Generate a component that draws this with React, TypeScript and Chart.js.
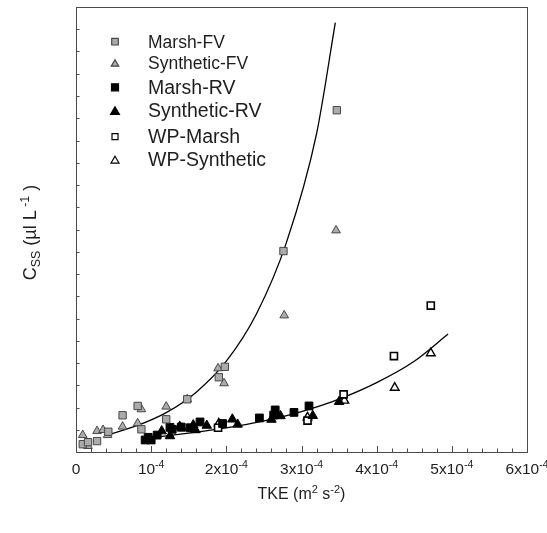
import React, { useEffect, useRef } from "react";
import { Chart, registerables } from "chart.js";

Chart.register(...registerables);

// TKE values are in units of 1e-4 m^2 s^-2; Css in arbitrary (unlabelled) units
const xMajorTicks = [0, 1, 2, 3, 4, 5, 6];
const xTickMain = ["0", "10", "2x10", "3x10", "4x10", "5x10", "6x10"];
const xTickExp = ["", "-4", "-4", "-4", "-4", "-4", "-4"];
const yTicks = [0, 1, 2, 3, 4, 5, 6, 7, 8, 9, 10, 11, 12, 13, 14, 15, 16, 17, 18, 19, 20];

const marshFVx = [0.09, 0.16, 0.28, 0.43, 0.62, 0.82, 0.87, 1.2, 1.48, 1.9, 1.98, 2.76, 3.47];
const marshFVy = [0.35, 0.44, 0.49, 0.91, 1.65, 2.07, 1.02, 1.47, 2.37, 3.36, 3.83, 9.03, 15.36];

const synthFVx = [0.09, 0.16, 0.28, 0.36, 0.42, 0.62, 0.82, 0.87, 1.2, 1.48, 1.89, 1.97, 2.77, 3.46];
const synthFVy = [0.76, 0.27, 0.94, 0.99, 0.76, 1.14, 1.29, 1.92, 2.04, 2.37, 3.76, 3.09, 6.14, 9.96];

const marshRVx = [0.92, 0.96, 1.0, 1.08, 1.25, 1.28, 1.4, 1.52, 1.65, 1.95, 2.44, 2.63, 2.65, 2.9, 3.1];
const marshRVy = [0.54, 0.66, 0.54, 0.76, 1.11, 1.02, 1.12, 1.09, 1.35, 1.28, 1.53, 1.66, 1.89, 1.78, 2.07];

const synthRVx = [0.98, 1.14, 1.25, 1.38, 1.41, 1.56, 1.59, 1.74, 2.08, 2.15, 2.6, 2.72, 3.15, 3.5];
const synthRVy = [0.57, 0.94, 0.72, 1.14, 1.07, 1.21, 0.99, 1.19, 1.47, 1.24, 1.46, 1.62, 1.63, 2.26];

const wpMarshX = [1.89, 3.08, 3.56, 4.23, 4.72];
const wpMarshY = [1.09, 1.41, 2.59, 4.31, 6.58];

const wpSynthX = [1.9, 3.08, 3.57, 4.24, 4.72];
const wpSynthY = [1.29, 1.56, 2.31, 2.89, 4.44];

const fitFVx = [0.48, 0.8, 1.2, 1.6, 2.0, 2.4, 2.8, 3.2, 3.45];
const fitFVy = [0.83, 1.17, 1.77, 2.69, 4.08, 6.2, 9.42, 14.3, 19.3];

const fitRVx = [0.89, 1.5, 2.0, 2.5, 3.0, 3.5, 4.0, 4.5, 4.95];
const fitRVy = [0.6, 0.85, 1.08, 1.4, 1.82, 2.38, 3.12, 4.08, 5.3];

const legendLabels = ["Marsh-FV", "Synthetic-FV", "Marsh-RV", "Synthetic-RV", "WP-Marsh", "WP-Synthetic"];
const legendSizes = [17.5, 17.5, 19.5, 19.5, 19.5, 19.5];

const FONT = "'Liberation Sans', Arial, sans-serif";
const TXT = "#1e1e1e";
const GRAY = "#ababab";
const GRAY_EDGE = "#474747";

const pts = (xs: number[], ys: number[]) => xs.map((x, i) => ({ x: x * 1e-4, y: ys[i] }));

type Part = { t: string; s: number; dy: number };
function drawRich(ctx: CanvasRenderingContext2D, parts: Part[], cx: number, y: number) {
  let total = 0;
  const widths = parts.map((p) => {
    ctx.font = `${p.s}px ${FONT}`;
    const w = ctx.measureText(p.t).width;
    total += w;
    return w;
  });
  let x = cx - total / 2;
  ctx.textAlign = "left";
  ctx.textBaseline = "alphabetic";
  parts.forEach((p, i) => {
    ctx.font = `${p.s}px ${FONT}`;
    ctx.fillText(p.t, x, y + p.dy);
    x += widths[i];
  });
}

const markerStyles = [
  { shape: "rect", fill: GRAY, edge: GRAY_EDGE, r: 3.3 },
  { shape: "tri", fill: GRAY, edge: GRAY_EDGE, r: 3.6 },
  { shape: "rect", fill: "#000", edge: "#000", r: 3.5 },
  { shape: "tri", fill: "#000", edge: "#000", r: 4.2 },
  { shape: "rect", fill: "#fff", edge: "#000", r: 3 },
  { shape: "tri", fill: "#fff", edge: "#000", r: 3.8 },
];

const decor = {
  id: "decor",
  beforeDatasetsDraw(chart: any) {
    const ctx: CanvasRenderingContext2D = chart.ctx;
    const { left, right, top, bottom } = chart.chartArea;
    const xs = chart.scales.x;
    const ys = chart.scales.y;
    ctx.save();
    ctx.strokeStyle = "#4a4a4a";
    ctx.lineWidth = 1;
    ctx.strokeRect(Math.round(left) + 0.5, Math.round(top) + 0.5, Math.round(right - left), Math.round(bottom - top));
    ctx.beginPath();
    for (let k = 0; k <= 30; k++) {
      const v = k * 0.2;
      const px = Math.round(xs.getPixelForValue(v * 1e-4)) + 0.5;
      const len = k % 5 === 0 ? 6 : 3.5;
      ctx.moveTo(px, bottom);
      ctx.lineTo(px, bottom - len);
    }
    yTicks.forEach((v) => {
      const py = Math.round(ys.getPixelForValue(v)) + 0.5;
      ctx.moveTo(left, py);
      ctx.lineTo(left + 3.5, py);
    });
    ctx.stroke();
    ctx.restore();
  },
  afterDraw(chart: any) {
    const ctx: CanvasRenderingContext2D = chart.ctx;
    const { left, right, top, bottom } = chart.chartArea;
    const xs = chart.scales.x;
    ctx.save();
    ctx.fillStyle = TXT;
    // x tick labels
    xMajorTicks.forEach((v, i) => {
      const px = xs.getPixelForValue(v * 1e-4);
      const parts: Part[] = [{ t: xTickMain[i], s: 15.5, dy: 0 }];
      if (xTickExp[i]) parts.push({ t: xTickExp[i], s: 10.5, dy: -6 });
      drawRich(ctx, parts, px, bottom + 22);
    });
    // x title
    drawRich(
      ctx,
      [
        { t: "TKE (m", s: 16, dy: 0 },
        { t: "2", s: 11, dy: -6 },
        { t: " s", s: 16, dy: 0 },
        { t: "-2", s: 11, dy: -6 },
        { t: ")", s: 16, dy: 0 },
      ],
      (left + right) / 2,
      bottom + 47
    );
    // y title
    ctx.save();
    ctx.translate(36, (top + bottom) / 2 + 3);
    ctx.rotate(-Math.PI / 2);
    drawRich(
      ctx,
      [
        { t: "C", s: 18, dy: 0 },
        { t: "SS", s: 12.5, dy: 4 },
        { t: " (\u00b5l L", s: 18, dy: 0 },
        { t: " -1", s: 12.5, dy: -7 },
        { t: " )", s: 18, dy: 0 },
      ],
      0,
      0
    );
    ctx.restore();
    // legend
    const rowY = [41.7, 63.3, 87.3, 111, 136.7, 160];
    legendLabels.forEach((lab, i) => {
      const y = rowY[i];
      const m = markerStyles[i];
      const mx = left + 39;
      ctx.beginPath();
      if (m.shape === "rect") {
        ctx.rect(mx - m.r, y - m.r, m.r * 2, m.r * 2);
      } else {
        ctx.moveTo(mx, y - m.r);
        ctx.lineTo(mx + m.r * 1.05, y + m.r * 0.8);
        ctx.lineTo(mx - m.r * 1.05, y + m.r * 0.8);
        ctx.closePath();
      }
      ctx.fillStyle = m.fill;
      ctx.fill();
      ctx.strokeStyle = m.edge;
      ctx.lineWidth = 1.2;
      ctx.stroke();
      ctx.fillStyle = TXT;
      ctx.font = `${legendSizes[i]}px ${FONT}`;
      ctx.textAlign = "left";
      ctx.textBaseline = "middle";
      ctx.fillText(lab, left + 72, y + 1);
    });
    ctx.restore();
  },
};

export default function App() {
  const ref = useRef<HTMLCanvasElement | null>(null);
  useEffect(() => {
    if (!ref.current) return;
    const scatter = (label: string, xs: number[], ys: number[], style: string, fill: string, edge: string, r: number, bw: number) => ({
      type: "scatter" as const,
      label,
      data: pts(xs, ys),
      pointStyle: style,
      pointRadius: r,
      pointBackgroundColor: fill,
      pointBorderColor: edge,
      pointBorderWidth: bw,
      showLine: false,
      order: 1,
    });
    const chart = new Chart(ref.current, {
      type: "scatter",
      data: {
        datasets: [
          scatter(legendLabels[0], marshFVx, marshFVy, "rect", GRAY, GRAY_EDGE, 5.2, 1),
          scatter(legendLabels[1], synthFVx, synthFVy, "triangle", GRAY, GRAY_EDGE, 5, 1),
          scatter(legendLabels[2], marshRVx, marshRVy, "rect", "#000", "#000", 5.5, 1),
          scatter(legendLabels[3], synthRVx, synthRVy, "triangle", "#000", "#000", 5.5, 1),
          scatter(legendLabels[4], wpMarshX, wpMarshY, "rect", "#fff", "#000", 5, 1.6),
          scatter(legendLabels[5], wpSynthX, wpSynthY, "triangle", "#fff", "#000", 5, 1.4),
          {
            type: "scatter" as const,
            label: "FV fit",
            data: pts(fitFVx, fitFVy),
            showLine: true,
            borderColor: "#000",
            borderWidth: 1.3,
            pointRadius: 0,
            cubicInterpolationMode: "monotone",
            order: 5,
          },
          {
            type: "scatter" as const,
            label: "RV fit",
            data: pts(fitRVx, fitRVy),
            showLine: true,
            borderColor: "#000",
            borderWidth: 1.3,
            pointRadius: 0,
            cubicInterpolationMode: "monotone",
            order: 5,
          },
        ] as any,
      },
      options: {
        animation: false,
        responsive: false,
        events: [],
        layout: { padding: { left: 76, right: 20, top: 7, bottom: 81 } },
        plugins: { legend: { display: false }, tooltip: { enabled: false } },
        scales: {
          x: { type: "linear", min: 0, max: 6e-4, display: false },
          y: { type: "linear", min: 0, max: 20, display: false },
        },
      },
      plugins: [decor],
    });
    return () => chart.destroy();
  }, []);
  return (
    <div style={{ position: "absolute", left: 0, top: 0, width: 547, height: 533, background: "#fff" }}>
      <canvas ref={ref} width={547} height={533} style={{ display: "block", width: 547, height: 533 }} />
    </div>
  );
}
